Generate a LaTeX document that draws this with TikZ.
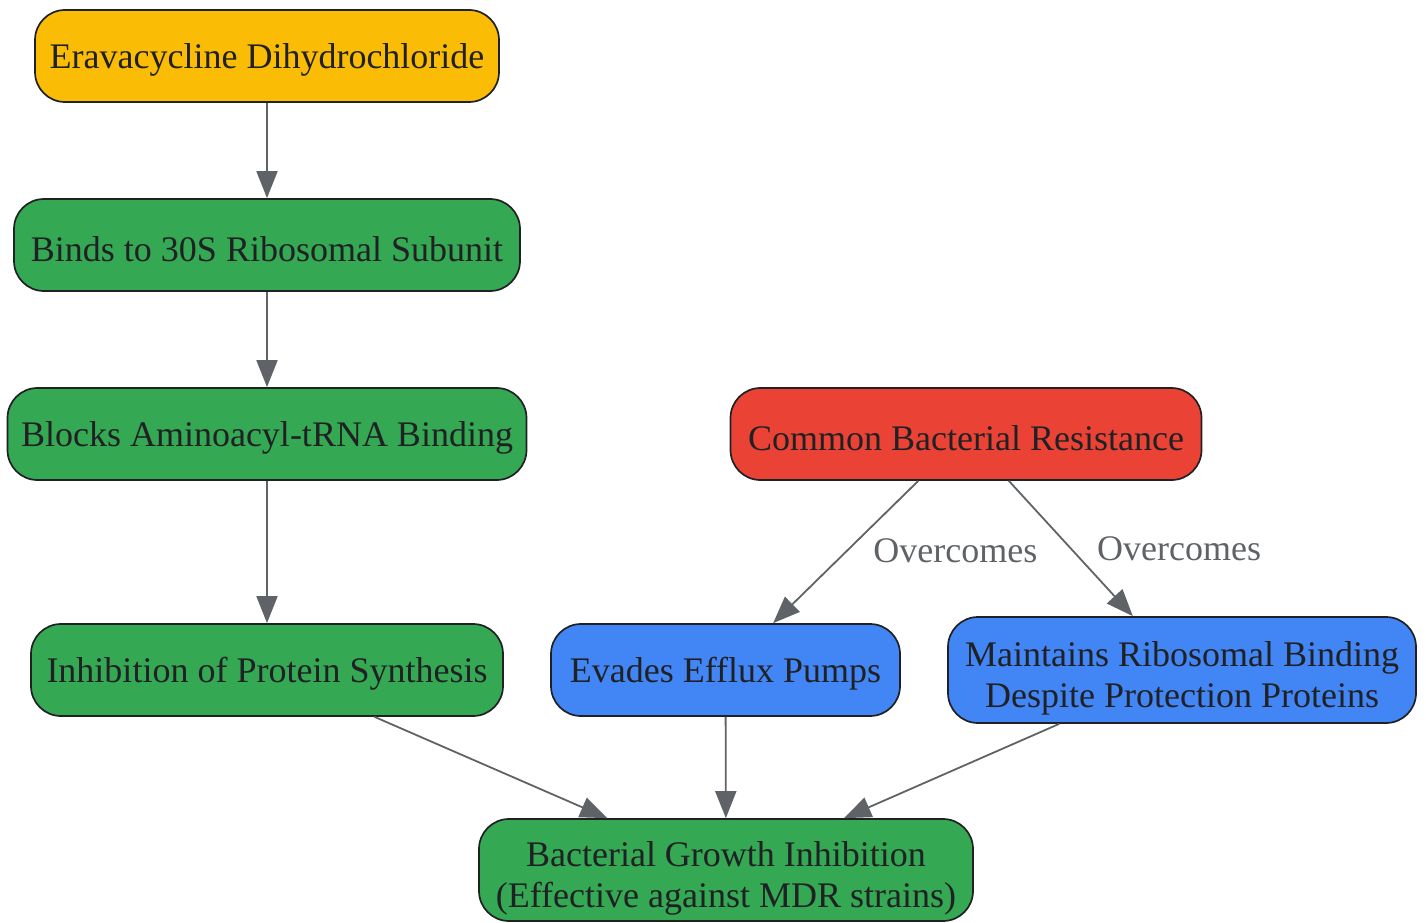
\documentclass[tikz,border=0pt]{standalone}
\usepackage{fontspec}
\setmainfont{Liberation Serif}
\usetikzlibrary{arrows.meta}
\definecolor{cyellow}{HTML}{FBBC05}
\definecolor{cgreen}{HTML}{34A853}
\definecolor{cred}{HTML}{EA4335}
\definecolor{cblue}{HTML}{4285F4}
\definecolor{cedge}{HTML}{5F6368}
\definecolor{ctext}{HTML}{202124}
\newcommand{\lowerby}{\rule{0pt}{42pt}}
\tikzset{
  box/.style={draw=ctext, line width=1.7pt, rounded corners=30pt, text=ctext,
    font=\fontsize{36}{41}\selectfont, align=center, minimum height=92pt, inner xsep=4pt,
    execute at begin node={\rule{0pt}{33pt}}},
  link/.style={draw=cedge, line width=1.8pt, -{Triangle[length=27pt,width=21pt]}},
  lbl/.style={text=cedge, font=\fontsize{36}{41}\selectfont, right=22pt, pos=0.49}
}
\begin{document}
\begin{tikzpicture}[x=1pt,y=-1pt]
    %initialisation
    \useasboundingbox (0,0) rectangle (1426,923);
    %definitions
    \node[box, fill=cyellow, minimum width=464pt] (era) at (267,56) {Eravacycline Dihydrochloride};
    \node[box, fill=cgreen, minimum width=506pt] (binds) at (267,245) {Binds to 30S Ribosomal Subunit};
    \node[box, fill=cgreen, minimum width=519pt] (blocks) at (267,434) {Blocks Aminoacyl-tRNA Binding};
    \node[box, fill=cgreen, minimum width=472pt] (inhib) at (267,670) {Inhibition of Protein Synthesis};
    \node[box, fill=cred, minimum width=471pt] (resist) at (966,434) {Common Bacterial Resistance};
    \node[box, fill=cblue, minimum width=349pt] (efflux) at (725.5,670) {Evades Efflux Pumps};
    \node[box, fill=cblue, minimum width=468pt, minimum height=106pt] (maint) at (1182,670) {\lowerby Maintains Ribosomal Binding\\Despite Protection Proteins};
    \node[box, fill=cgreen, minimum width=494pt, minimum height=102pt] (growth) at (726,870) {\lowerby Bacterial Growth Inhibition\\(Effective against MDR strains)};
    %drawing
    \draw[link] (era) -- (binds);
    \draw[link] (binds) -- (blocks);
    \draw[link] (blocks) -- (inhib);
    \draw[link] (inhib) -- (growth);
    \draw[link] (efflux) -- (growth);
    \draw[link] (maint) -- (growth);
    %label
    \draw[link] (resist) -- node[lbl] (ovA) {Overcomes} (efflux);
    \draw[link] (resist) -- node[lbl, pos=0.5] (ovB) {Overcomes} (maint);
\end{tikzpicture}
\end{document}
